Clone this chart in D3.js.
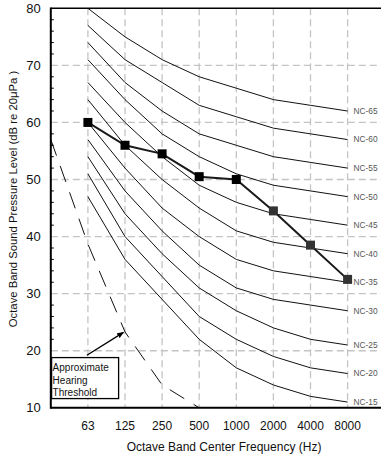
<!DOCTYPE html>
<html>
<head>
<meta charset="utf-8">
<script src="https://cdn.jsdelivr.net/npm/d3@7"></script>
<style>
  html, body { margin: 0; padding: 0; background: #fff; }
  svg { display: block; font-family: "Liberation Sans", Arial, Helvetica, sans-serif; }
</style>
</head>
<body>
<svg id="chart" width="381" height="458"></svg>
<script>
// ---- data ----
const bandLabels = ["31.5", "63", "125", "250", "500", "1000", "2000", "4000", "8000"];
const plotBands = ["63", "125", "250", "500", "1000", "2000", "4000", "8000"];
const ncNames = ["NC-15", "NC-20", "NC-25", "NC-30", "NC-35", "NC-40", "NC-45", "NC-50", "NC-55", "NC-60", "NC-65"];
const nc15 = [47, 36, 29, 22, 17, 14, 12, 11];
const nc20 = [51, 40, 33, 26, 22, 19, 17, 16];
const nc25 = [54, 44, 37, 31, 27, 24, 22, 21];
const nc30 = [57, 48, 41, 35, 31, 29, 28, 27];
const nc35 = [60, 52, 45, 40, 36, 34, 33, 32];
const nc40 = [64, 56, 50, 45, 41, 39, 38, 37];
const nc45 = [67, 60, 54, 49, 46, 44, 43, 42];
const nc50 = [71, 64, 58, 54, 51, 49, 48, 47];
const nc55 = [74, 67, 62, 58, 56, 54, 53, 52];
const nc60 = [77, 71, 67, 63, 61, 59, 58, 57];
const nc65 = [80, 75, 71, 68, 66, 64, 63, 62];
const measured = [60, 56, 54.5, 50.5, 50, 44.5, 38.5, 32.5];
const thresholdBands = ["31.5", "63", "125", "250", "500"];
const threshold = [57, 38.7, 23.3, 14, 10];
const yTicks = [10, 20, 30, 40, 50, 60, 70, 80];
const annotationLines = ["Approximate", "Hearing", "Threshold"];

const ncSeries = [nc15, nc20, nc25, nc30, nc35, nc40, nc45, nc50, nc55, nc60, nc65];

// ---- layout ----
(function () {
const svg = d3.select("#chart");
const W = 381;
const x = d3.scaleLinear().domain([0, 9]).range([50.8, 384.7]);
const bx = b => x(bandLabels.indexOf(b));
const y = d3.scaleLinear().domain([10, 80]).range([407.8, 8.3]);
const pLeft = x(0), pTop = y(80), pBottom = y(10);

const defs = svg.append("defs");
defs.append("clipPath").attr("id", "plotclip")
  .append("rect").attr("x", pLeft).attr("y", pTop).attr("width", W - pLeft).attr("height", pBottom - pTop);

const grid = svg.append("g").attr("stroke", "#c4c4c4").attr("stroke-width", 1.3).attr("stroke-dasharray", "7,4");
grid.selectAll("line.v").data(plotBands).join("line").attr("class", "v")
  .attr("x1", d => bx(d)).attr("x2", d => bx(d)).attr("y1", pTop).attr("y2", pBottom);
grid.selectAll("line.h").data(yTicks.filter(t => t > 10 && t < 80)).join("line").attr("class", "h")
  .attr("x1", pLeft).attr("x2", W).attr("y1", d => y(d)).attr("y2", d => y(d));

const plot = svg.append("g").attr("clip-path", "url(#plotclip)");

// NC curves
const ncLine = d3.line().x((d, i) => bx(plotBands[i])).y(d => y(d));
plot.selectAll("path.nc").data(ncSeries).join("path").attr("class", "nc")
  .attr("fill", "none").attr("stroke", "#111").attr("stroke-width", 1)
  .attr("d", ncLine);

// hearing threshold
const thLine = d3.line().x((d, i) => bx(thresholdBands[i])).y(d => y(d));
plot.append("path").datum(threshold)
  .attr("fill", "none").attr("stroke", "#111").attr("stroke-width", 1)
  .attr("stroke-dasharray", "17,11")
  .attr("d", thLine);

// NC labels
svg.selectAll("text.nc").data(ncSeries).join("text").attr("class", "nc")
  .attr("x", bx("8000") + 6).attr("y", d => y(d[d.length - 1]))
  .attr("dy", "0.35em").attr("font-size", 8.3).attr("fill", "#555")
  .text((d, i) => ncNames[i]);

// measured spectrum
const mLine = d3.line().x((d, i) => bx(plotBands[i])).y(d => y(d));
svg.append("path").datum(measured)
  .attr("fill", "none").attr("stroke", "#1a1a1a").attr("stroke-width", 2)
  .attr("d", mLine);
const sq = 9;
svg.selectAll("rect.m").data(measured).join("rect").attr("class", "m")
  .attr("x", (d, i) => bx(plotBands[i]) - sq / 2).attr("y", d => y(d) - sq / 2)
  .attr("width", sq).attr("height", sq)
  .attr("fill", (d, i) => i >= 5 ? "#333" : "#000");

// axes frame
svg.append("line").attr("x1", pLeft).attr("x2", W).attr("y1", pTop).attr("y2", pTop)
  .attr("stroke", "#000").attr("stroke-width", 1.6);
svg.append("line").attr("x1", pLeft).attr("x2", W).attr("y1", pBottom).attr("y2", pBottom)
  .attr("stroke", "#000").attr("stroke-width", 2);
svg.append("line").attr("x1", pLeft).attr("x2", pLeft).attr("y1", pTop - 0.8).attr("y2", pBottom + 1)
  .attr("stroke", "#000").attr("stroke-width", 2);

// minor ticks every 2 dB
svg.append("g").selectAll("line").data(d3.range(12, 80, 2).filter(v => v % 10 !== 0)).join("line")
  .attr("x1", pLeft).attr("x2", pLeft + 3).attr("y1", d => y(d)).attr("y2", d => y(d))
  .attr("stroke", "#000").attr("stroke-width", 1);

// y tick labels
svg.selectAll("text.yt").data(yTicks).join("text").attr("class", "yt")
  .attr("x", pLeft - 10).attr("y", d => y(d)).attr("dy", "0.36em")
  .attr("text-anchor", "end").attr("font-size", 13).attr("fill", "#111")
  .text(d => d);

// x tick labels
svg.selectAll("text.xt").data(plotBands).join("text").attr("class", "xt")
  .attr("x", d => bx(d)).attr("y", 429.5)
  .attr("text-anchor", "middle").attr("font-size", 12).attr("fill", "#111")
  .text(d => d);

// axis titles
svg.append("text").attr("x", 224).attr("y", 451)
  .attr("text-anchor", "middle").attr("font-size", 12).attr("fill", "#111")
  .text("Octave Band Center Frequency (Hz)");
svg.append("text").attr("transform", "translate(17,199) rotate(-90)")
  .attr("text-anchor", "middle").attr("font-size", 11.3).attr("fill", "#111")
  .text("Octave Band Sound Pressure Level (dB re 20\u03bcPa )");

// annotation
defs.append("marker").attr("id", "arrow").attr("viewBox", "0 0 10 10")
  .attr("refX", 9).attr("refY", 5).attr("markerWidth", 7).attr("markerHeight", 7)
  .attr("orient", "auto").attr("markerUnits", "userSpaceOnUse")
  .append("path").attr("d", "M0,1 L10,5 L0,9 Z").attr("fill", "#000");
svg.append("line")
  .attr("x1", bx("63") - 1).attr("y1", y(19.2))
  .attr("x2", bx("125") - 1.5).attr("y2", y(threshold[2]) + 0.5)
  .attr("stroke", "#000").attr("stroke-width", 1.3).attr("marker-end", "url(#arrow)");
svg.append("rect")
  .attr("x", pLeft + 0.8).attr("y", y(18.8))
  .attr("width", 67).attr("height", 41)
  .attr("fill", "#fff").attr("stroke", "#000").attr("stroke-width", 1.3);
svg.selectAll("text.ann").data(annotationLines).join("text").attr("class", "ann")
  .attr("x", pLeft + 1.8).attr("y", (d, i) => y(18.8) + 13.5 + i * 12.5)
  .attr("font-size", 10).attr("fill", "#111")
  .text(d => d);
})();
</script>
</body>
</html>
